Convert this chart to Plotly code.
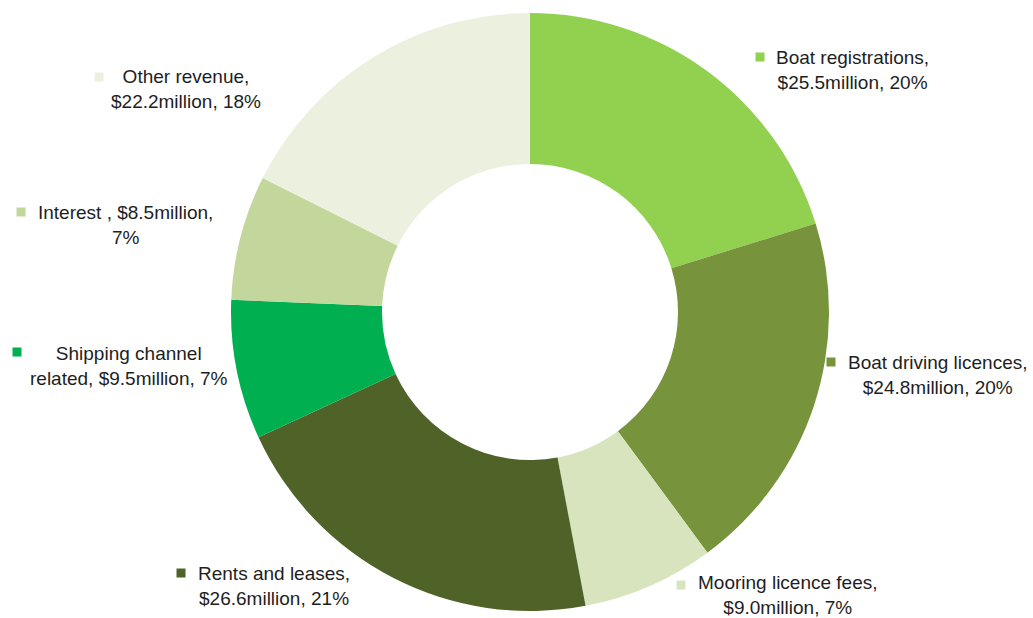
import plotly.graph_objects as go

categories = ["Boat registrations", "Boat driving licences", "Mooring licence fees",
              "Rents and leases", "Shipping channel related", "Interest", "Other revenue"]
values = [25.5, 24.8, 9.0, 26.6, 9.5, 8.5, 22.2]
percents = [20, 20, 7, 21, 7, 7, 18]
colors = ["#92D050", "#77933C", "#D7E4BD", "#4F6228", "#00B050", "#C3D69B", "#EBF1DE"]
label_texts = [
    "Boat registrations,<br>$25.5million, 20%",
    "Boat driving licences,<br>$24.8million, 20%",
    "Mooring licence fees,<br>$9.0million, 7%",
    "Rents and leases,<br>$26.6million, 21%",
    "Shipping channel<br>related, $9.5million, 7%",
    "Interest , $8.5million,<br>7%",
    "Other revenue,<br>$22.2million, 18%",
]

W, H = 1033, 618
# label layout (pixel positions): text block center, marker center
text_pos = [(852, 70), (938, 375), (788, 595), (274, 586), (129, 366), (125, 225), (186, 89)]
marker_pos = [(760, 57), (831, 362), (681, 585), (181, 573), (17, 352), (21, 212), (99, 77)]

cx, cy, r = 530, 312, 299

fig = go.Figure(go.Pie(
    labels=categories,
    values=values,
    marker=dict(colors=colors, line=dict(width=0)),
    hole=0.495,
    sort=False,
    direction="clockwise",
    rotation=0,
    textinfo="none",
    hoverinfo="label+value+percent",
    showlegend=False,
    domain=dict(x=[(cx - r) / W, (cx + r) / W], y=[(H - cy - r) / H, (H - cy + r) / H]),
))

annotations = []
shapes = []
s = 4.5
for txt, (tx, ty), (mx, my), col in zip(label_texts, text_pos, marker_pos, colors):
    annotations.append(dict(
        text=txt, x=tx / W, y=1 - ty / H, xref="paper", yref="paper",
        xanchor="center", yanchor="middle", align="center", showarrow=False,
        font=dict(family="Liberation Sans, Arial, sans-serif", size=19, color="#1e1e1e"),
    ))
    shapes.append(dict(
        type="rect", xref="paper", yref="paper",
        x0=(mx - s) / W, x1=(mx + s) / W, y0=1 - (my + s) / H, y1=1 - (my - s) / H,
        fillcolor=col, line=dict(width=0),
    ))

fig.update_layout(
    width=W, height=H,
    margin=dict(l=0, r=0, t=0, b=0),
    paper_bgcolor="white",
    plot_bgcolor="white",
    annotations=annotations,
    shapes=shapes,
)

fig.write_html("out.html")
